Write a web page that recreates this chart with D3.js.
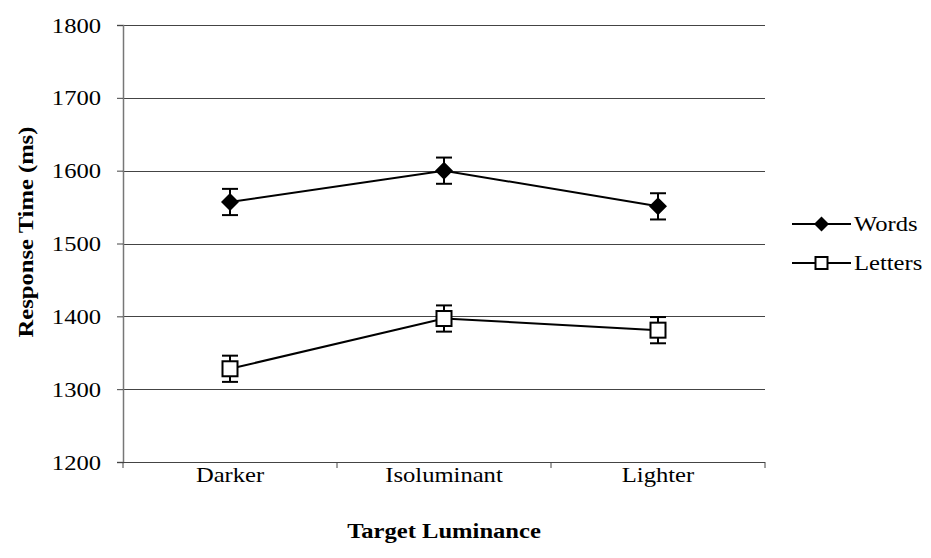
<!DOCTYPE html>
<html>
<head>
<meta charset="utf-8">
<script src="https://cdn.jsdelivr.net/npm/d3@7"></script>
</head>
<body style="margin:0; background:#fff;">
<div id="chart"></div>
<script>
const categories = ["Darker", "Isoluminant", "Lighter"];
const seriesNames = ["Words", "Letters"];
const wordsValues = [1557, 1600, 1551];
const lettersValues = [1328, 1397, 1381];
const wordsErr = [18, 18, 18];
const lettersErr = [18, 18, 18];
const yTicks = [1200, 1300, 1400, 1500, 1600, 1700, 1800];

const W = 931, H = 558;
const margin = { top: 25, right: 166, bottom: 96, left: 123 },
      width = W - margin.left - margin.right,
      height = H - margin.top - margin.bottom;

const FONT = "Liberation Serif";
const FS = 20.5;
const SX = 1.2; // glyphs in the picture are a bit wider than Times

const svg = d3.select("#chart")
  .append("svg")
  .attr("width", W)
  .attr("height", H)
  .attr("font-family", FONT);

const g = svg.append("g")
  .attr("transform", `translate(${margin.left},${margin.top})`);

const x = d3.scaleBand()
  .domain(categories)
  .range([0, width]);

const y = d3.scaleLinear()
  .domain([1200, 1800])
  .range([height, 0]);

// text at (px,py), stretched horizontally
function label(sel, px, py, str, anchor, bold, rot) {
  return sel.append("text")
    .attr("transform", `translate(${px},${py})${rot ? " rotate(" + rot + ")" : ""} scale(${SX},1)`)
    .attr("text-anchor", anchor)
    .attr("font-family", FONT)
    .attr("font-size", FS)
    .attr("font-weight", bold ? "bold" : "normal")
    .attr("fill", "#000")
    .text(str);
}

// gridlines
g.selectAll("line.grid")
  .data(yTicks.slice(1))
  .join("line")
  .attr("class", "grid")
  .attr("x1", 0)
  .attr("x2", width)
  .attr("y1", d => Math.round(y(d)) + 0.5)
  .attr("y2", d => Math.round(y(d)) + 0.5)
  .attr("stroke", "#444")
  .attr("stroke-width", 1);

// y axis
const yAxis = g.append("g")
  .call(d3.axisLeft(y).tickValues(yTicks).tickSize(6).tickFormat(d3.format("d")))
  .attr("font-family", FONT);
yAxis.select(".domain").attr("stroke", "#777").attr("stroke-width", 1.5);
yAxis.selectAll(".tick line").attr("stroke", "#444");
yAxis.selectAll(".tick text").remove();
yAxis.selectAll(".tick").each(function(d) {
  label(d3.select(this), -22, 7, d, "end");
});

// x axis (ticks at band boundaries)
const xAxis = g.append("g")
  .attr("transform", `translate(0,${height})`);
xAxis.append("line")
  .attr("x1", 0).attr("x2", width)
  .attr("y1", 0.5).attr("y2", 0.5)
  .attr("stroke", "#444");
const bounds = categories.map(c => x(c)).concat([x.range()[1]]);
xAxis.selectAll("line.tk")
  .data(bounds)
  .join("line")
  .attr("class", "tk")
  .attr("x1", d => d).attr("x2", d => d)
  .attr("y1", 0).attr("y2", 6)
  .attr("stroke", "#444");
categories.forEach(c => label(xAxis, x(c) + x.bandwidth() / 2, 20, c, "middle"));

// axis titles
label(svg, 33, 232, "Response Time (ms)", "middle", true, -90);
label(svg, margin.left + width / 2, 538, "Target Luminance", "middle", true);

const series = [
  { name: seriesNames[0], values: wordsValues, err: wordsErr, shape: "diamond" },
  { name: seriesNames[1], values: lettersValues, err: lettersErr, shape: "square" }
];

const cx = c => x(c) + x.bandwidth() / 2;
const line = d3.line().x(d => cx(d.cat)).y(d => y(d.v));

function drawMarker(sel, shape, px, py, s) {
  if (shape === "diamond") {
    sel.append("path")
      .attr("d", `M${px},${py - s}L${px + s},${py}L${px},${py + s}L${px - s},${py}Z`)
      .attr("fill", "#000");
  } else {
    sel.append("rect")
      .attr("x", px - s).attr("y", py - s)
      .attr("width", 2 * s).attr("height", 2 * s)
      .attr("fill", "#fff")
      .attr("stroke", "#000")
      .attr("stroke-width", 2);
  }
}

series.forEach(s => {
  const pts = categories.map((c, i) => ({ cat: c, v: s.values[i], e: s.err[i] }));
  const sg = g.append("g");

  sg.append("path")
    .datum(pts)
    .attr("d", line)
    .attr("fill", "none")
    .attr("stroke", "#000")
    .attr("stroke-width", 2);

  // error bars
  pts.forEach(p => {
    const px = cx(p.cat);
    sg.append("line")
      .attr("x1", px).attr("x2", px)
      .attr("y1", y(p.v + p.e)).attr("y2", y(p.v - p.e))
      .attr("stroke", "#000").attr("stroke-width", 2);
    [p.v + p.e, p.v - p.e].forEach(v => {
      sg.append("line")
        .attr("x1", px - 8).attr("x2", px + 8)
        .attr("y1", y(v)).attr("y2", y(v))
        .attr("stroke", "#000").attr("stroke-width", 2);
    });
  });

  pts.forEach(p => drawMarker(sg, s.shape, cx(p.cat), y(p.v), s.shape === "diamond" ? 9 : 7.5));
});

// legend
const legend = svg.selectAll(".legend")
  .data(series)
  .join("g")
  .attr("class", "legend")
  .attr("transform", (d, i) => `translate(792, ${224 + i * 39})`);

legend.append("line")
  .attr("x1", 0).attr("x2", 59)
  .attr("y1", 0).attr("y2", 0)
  .attr("stroke", "#000").attr("stroke-width", 2);

legend.each(function(d) {
  const lg = d3.select(this);
  drawMarker(lg, d.shape, 29.5, 0, d.shape === "diamond" ? 7.5 : 6);
  label(lg, 62, 7, d.name, "start");
});
</script>
</body>
</html>
